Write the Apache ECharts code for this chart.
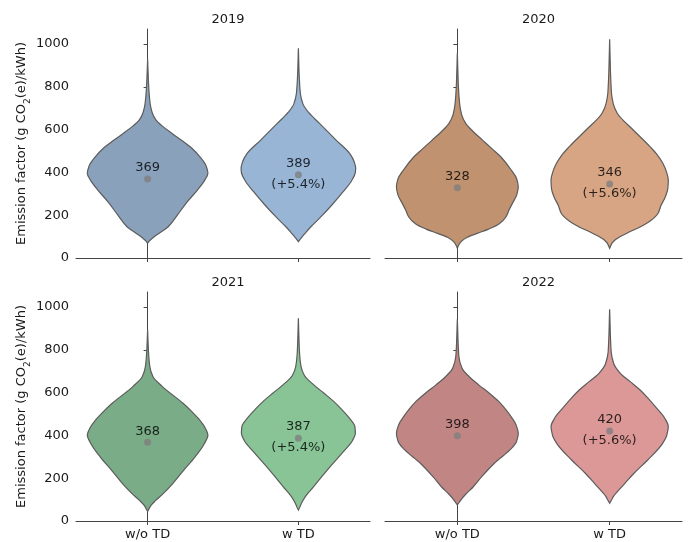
<!DOCTYPE html>
<html>
<head>
<meta charset="utf-8">
<script src="https://cdn.jsdelivr.net/npm/echarts@6/dist/echarts.min.js"></script>
<style>
  html, body { margin: 0; padding: 0; background: #fff; }
  #chart { width: 689px; height: 542px; }
</style>
</head>
<body>
<div id="chart"></div>
<script>
// ---- data ----
const years = ['2019', '2020', '2021', '2022'];
const groups = ['w/o TD', 'w TD'];
const yTicks = [0, 200, 400, 600, 800, 1000];

const meanWithout = [369, 328, 368, 398];
const meanWith = [389, 346, 387, 420];
const changePct = ['+5.4%', '+5.6%', '+5.4%', '+5.6%'];

// violin outlines: emission-factor levels and KDE half-widths (in category units)
const lv2019a = [69, 80, 95, 115, 145, 200, 260, 320, 365, 396, 430, 470, 515, 550, 583, 615, 645, 680, 720, 780, 850, 928];
const hw2019a = [0, 0.012, 0.035, 0.075, 0.135, 0.197, 0.26, 0.333, 0.38, 0.40, 0.388, 0.35, 0.29, 0.225, 0.16, 0.1, 0.055, 0.03, 0.017, 0.009, 0.004, 0];
const lv2019b = [76, 88, 103, 120, 146, 193, 250, 310, 360, 400, 420, 450, 489, 551, 629, 680, 720, 770, 860, 980];
const hw2019b = [0, 0.012, 0.03, 0.05, 0.083, 0.15, 0.225, 0.297, 0.352, 0.378, 0.38, 0.37, 0.34, 0.25, 0.14, 0.068, 0.03, 0.013, 0.005, 0];

const lv2020a = [45, 62, 80, 97, 115, 135, 160, 193, 225, 260, 295, 333, 370, 410, 473, 512, 551, 590, 629, 670, 720, 800, 958];
const hw2020a = [0, 0.01, 0.03, 0.065, 0.13, 0.205, 0.275, 0.32, 0.34, 0.365, 0.39, 0.40, 0.39, 0.355, 0.285, 0.225, 0.165, 0.105, 0.055, 0.028, 0.015, 0.007, 0];
const lv2020b = [45, 65, 84, 100, 120, 145, 175, 209, 245, 285, 325, 364, 405, 442, 480, 520, 598, 676, 720, 770, 880, 1022];
const hw2020b = [0, 0.012, 0.035, 0.07, 0.125, 0.2, 0.27, 0.318, 0.337, 0.365, 0.382, 0.385, 0.372, 0.35, 0.315, 0.265, 0.155, 0.05, 0.024, 0.012, 0.005, 0];

const lv2021a = [44, 58, 75, 95, 129, 176, 238, 300, 360, 402, 440, 472, 510, 550, 628, 675, 720, 790, 893];
const hw2021a = [0, 0.01, 0.025, 0.052, 0.105, 0.168, 0.24, 0.315, 0.375, 0.40, 0.378, 0.345, 0.295, 0.235, 0.098, 0.035, 0.015, 0.006, 0];
const lv2021b = [51, 66, 85, 114, 160, 207, 260, 325, 375, 410, 440, 485, 519, 560, 597, 635, 680, 720, 780, 947];
const hw2021b = [0, 0.01, 0.022, 0.046, 0.10, 0.155, 0.218, 0.30, 0.358, 0.378, 0.375, 0.333, 0.29, 0.232, 0.17, 0.104, 0.04, 0.018, 0.008, 0];

const lv2022a = [75, 90, 105, 125, 160, 207, 270, 332, 370, 410, 450, 485, 519, 560, 597, 635, 674, 715, 770, 942];
const hw2022a = [0, 0.015, 0.03, 0.055, 0.105, 0.16, 0.243, 0.345, 0.388, 0.40, 0.385, 0.355, 0.32, 0.27, 0.21, 0.142, 0.078, 0.03, 0.01, 0];
const lv2022b = [83, 98, 115, 135, 176, 223, 285, 363, 400, 441, 480, 534, 575, 612, 650, 690, 735, 790, 989];
const hw2022b = [0, 0.012, 0.025, 0.048, 0.10, 0.16, 0.25, 0.348, 0.375, 0.385, 0.362, 0.30, 0.25, 0.20, 0.137, 0.07, 0.027, 0.01, 0];

const violinLevels = [[lv2019a, lv2019b], [lv2020a, lv2020b], [lv2021a, lv2021b], [lv2022a, lv2022b]];
const violinWidths = [[hw2019a, hw2019b], [hw2020a, hw2020b], [hw2021a, hw2021b], [hw2022a, hw2022b]];

// ---- styling ----
const FONT = 'DejaVu Sans';
const FS = 13;
const TEXT = '#1a1a1a';
const AXIS = '#444';
const fills = [
  ['#8aa1bc', '#98b5d5'],
  ['#c0926f', '#d7a583'],
  ['#7aac87', '#88c496'],
  ['#c18684', '#db9897']
];
const gridBoxes = [
  { left: 76, top: 29, width: 294, height: 229 },
  { left: 385, top: 29, width: 297, height: 229 },
  { left: 76, top: 292, width: 294, height: 229 },
  { left: 385, top: 292, width: 297, height: 229 }
];

// monotone (Fritsch-Carlson) slopes so the outline curve never overshoots
function monotoneSlopes(x, y) {
  const n = x.length, d = [], m = new Array(n);
  for (let i = 0; i < n - 1; i++) d.push((y[i + 1] - y[i]) / (x[i + 1] - x[i]));
  m[0] = d[0]; m[n - 1] = d[n - 2];
  for (let i = 1; i < n - 1; i++) {
    if (d[i - 1] * d[i] <= 0) m[i] = 0;
    else {
      const h0 = x[i] - x[i - 1], h1 = x[i + 1] - x[i];
      const w1 = 2 * h1 + h0, w2 = h1 + 2 * h0;
      m[i] = (w1 + w2) / (w1 / d[i - 1] + w2 / d[i]);
    }
  }
  return m;
}

// one side of the violin as cubic segments through the outline points
function sidePath(api, c, sign, lv, hw, m, forward) {
  const P = (v, w) => api.coord([c + sign * w, v]);
  let s = '';
  const n = lv.length;
  const idx = forward ? [...Array(n - 1).keys()] : [...Array(n - 1).keys()].reverse();
  idx.forEach(i => {
    const h = lv[i + 1] - lv[i];
    const a = P(lv[i] + h / 3, hw[i] + m[i] * h / 3);
    const b = P(lv[i + 1] - h / 3, hw[i + 1] - m[i + 1] * h / 3);
    if (forward) {
      const e = P(lv[i + 1], hw[i + 1]);
      s += ` C ${a[0]} ${a[1]} ${b[0]} ${b[1]} ${e[0]} ${e[1]}`;
    } else {
      const e = P(lv[i], hw[i]);
      s += ` C ${b[0]} ${b[1]} ${a[0]} ${a[1]} ${e[0]} ${e[1]}`;
    }
  });
  return s;
}

const chart = echarts.init(document.getElementById('chart'), null, { renderer: 'canvas' });

const grids = [], xAxes = [], yAxes = [], series = [], titles = [];

years.forEach((yr, g) => {
  const box = gridBoxes[g];
  const isLeft = g % 2 === 0;
  const isBottom = g >= 2;
  grids.push(Object.assign({ containLabel: false }, box));
  titles.push({
    text: yr,
    left: box.left + box.width / 2,
    top: box.top - 21,
    textAlign: 'center',
    textStyle: { fontFamily: FONT, fontSize: FS, fontWeight: 'normal', color: TEXT }
  });
  xAxes.push({
    type: 'value', gridIndex: g, min: -0.475, max: 1.475,
    axisLine: { show: true, lineStyle: { color: AXIS, width: 1 } },
    axisTick: { show: true, length: 4, customValues: [0, 1], lineStyle: { color: AXIS } },
    axisLabel: {
      show: isBottom, customValues: [0, 1], margin: 7,
      formatter: v => groups[Math.round(v)],
      fontFamily: FONT, fontSize: FS, color: TEXT
    },
    splitLine: { show: false }
  });
  yAxes.push({
    type: 'value', gridIndex: g, min: 0, max: 1070,
    axisLine: { show: true, lineStyle: { color: AXIS, width: 1 } },
    axisTick: { show: true, length: 4, customValues: yTicks, lineStyle: { color: AXIS } },
    axisLabel: {
      show: isLeft, customValues: yTicks, margin: 7,
      formatter: v => String(v),
      fontFamily: FONT, fontSize: FS, color: TEXT
    },
    splitLine: { show: false },
    name: isLeft ? 'Emission factor (g CO{sub|2}(e)/kWh)' : '',
    nameLocation: 'middle',
    nameGap: 39,
    nameRotate: 90,
    nameTextStyle: {
      fontFamily: FONT, fontSize: FS, color: TEXT,
      rich: { sub: { fontFamily: FONT, fontSize: 9, color: TEXT, verticalAlign: 'bottom', padding: [0, 0, -4, 0] } }
    }
  });

  // violin bodies
  series.push({
    type: 'custom',
    xAxisIndex: g, yAxisIndex: g,
    data: [[0], [1]],
    silent: true,
    z: 2,
    renderItem: (params, api) => {
      const k = params.dataIndex;
      const c = api.value(0);
      const lv = violinLevels[g][k];
      const hw = violinWidths[g][k];
      const m = monotoneSlopes(lv, hw);
      const start = api.coord([c + hw[0], lv[0]]);
      let d = `M ${start[0]} ${start[1]}`;
      d += sidePath(api, c, 1, lv, hw, m, true);
      d += sidePath(api, c, -1, lv, hw, m, false);
      d += ' Z';
      return {
        type: 'path',
        shape: { pathData: d },
        style: { fill: fills[g][k], stroke: '#5c5c5c', lineWidth: 1.2 }
      };
    }
  });

  // mean markers with value labels
  series.push({
    type: 'scatter',
    xAxisIndex: g, yAxisIndex: g,
    symbol: 'circle', symbolSize: 7,
    itemStyle: { color: '#808080' },
    z: 5,
    silent: true,
    data: [
      {
        value: [0, meanWithout[g]],
        label: { show: true, position: 'inside', offset: [0, -11], formatter: String(meanWithout[g]) }
      },
      {
        value: [1, meanWith[g]],
        label: { show: true, position: 'inside', offset: [0, -1], lineHeight: 21, formatter: meanWith[g] + '\n(' + changePct[g] + ')' }
      }
    ],
    label: { fontFamily: FONT, fontSize: FS, color: '#000' }
  });
});

chart.setOption({
  animation: false,
  backgroundColor: '#fff',
  title: titles,
  grid: grids,
  xAxis: xAxes,
  yAxis: yAxes,
  series: series
});
</script>
</body>
</html>
